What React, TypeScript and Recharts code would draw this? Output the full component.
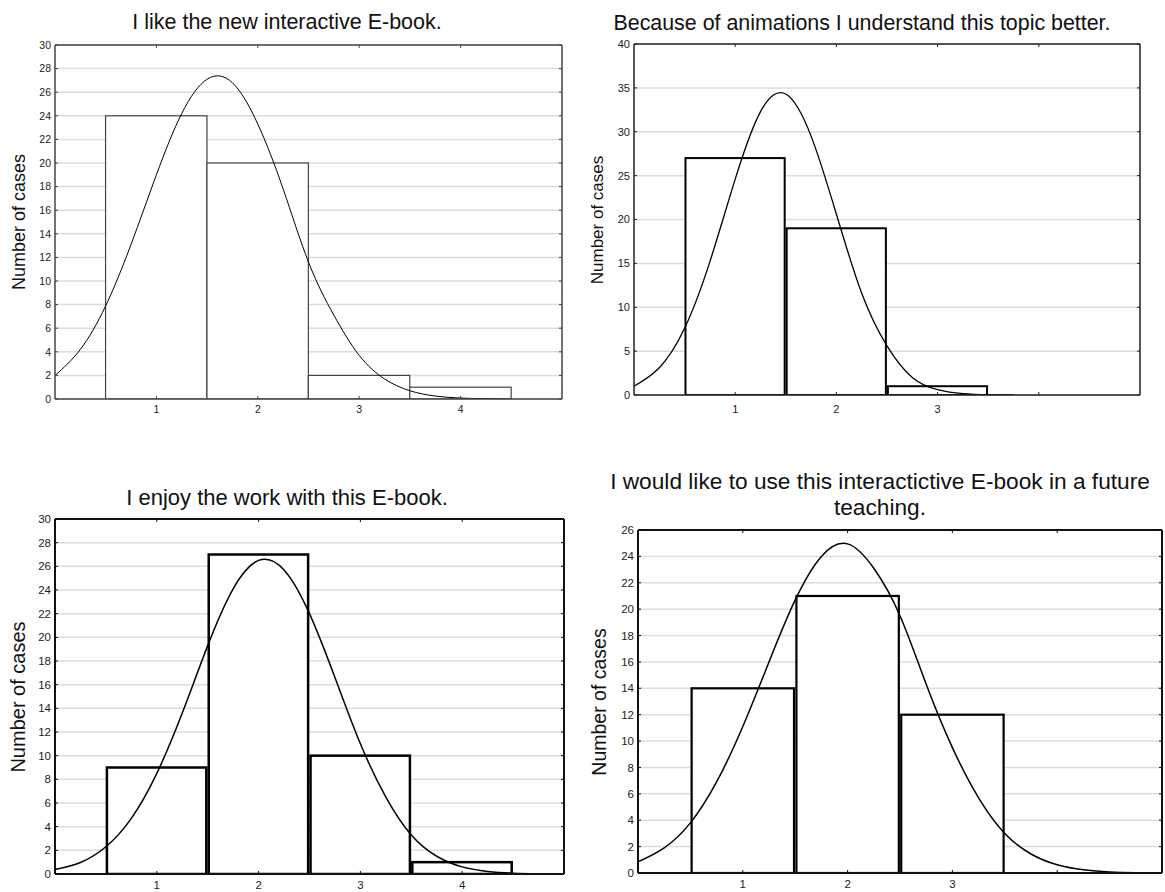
import React from 'react'
import { ComposedChart, Bar, Line, XAxis, YAxis, CartesianGrid } from 'recharts'

const curveX = [0, 0.25, 0.5, 0.75, 1, 1.25, 1.5, 1.75, 2, 2.25, 2.5, 2.75, 3, 3.25, 3.5, 3.75, 4, 4.25, 4.5, 4.75, 5]
const binCenters = [1, 2, 3, 4]
const xTicks = [1, 2, 3, 4]

const likeCounts = [24, 20, 2, 1]
const likeCurve = [2.0, 4.2, 7.9, 13.1, 19.0, 24.2, 27.1, 26.8, 23.3, 17.8, 11.6, 7.1, 3.7, 1.7, 0.7, 0.25, 0.08, 0.02, 0, null, null]
const likeTicks = [0, 2, 4, 6, 8, 10, 12, 14, 16, 18, 20, 22, 24, 26, 28, 30]

const animCounts = [27, 19, 1]
const animCurve = [1.0, 3.1, 7.6, 15.2, 24.6, 32.3, 34.3, 29.5, 20.6, 11.6, 5.6, 2.0, 0.6, 0.15, 0.03, 0, null, null, null, null, null]
const animTicks = [0, 5, 10, 15, 20, 25, 30, 35, 40]

const enjoyCounts = [9, 27, 10, 1]
const enjoyCurve = [0.37, 0.97, 2.3, 4.7, 8.5, 13.6, 19.3, 24.1, 26.5, 25.7, 22.0, 16.6, 11.0, 6.5, 3.3, 1.5, 0.6, 0.22, 0.07, 0.02, 0]
const enjoyTicks = [0, 2, 4, 6, 8, 10, 12, 14, 16, 18, 20, 22, 24, 26, 28, 30]

const futureCounts = [14, 21, 12]
const futureCurve = [0.84, 1.9, 3.8, 6.9, 11.1, 16.0, 20.7, 24.0, 24.95, 23.1, 19.5, 14.3, 9.5, 5.7, 3.0, 1.44, 0.62, 0.24, 0.08, 0.025, 0.007]
const futureTicks = [0, 2, 4, 6, 8, 10, 12, 14, 16, 18, 20, 22, 24, 26]

const FONT = '"Liberation Sans", Arial, sans-serif'
const YW = 40
const XH = 30
const TH = 10
const RW = 1

interface PanelProps {
  plot: { l: number; t: number; r: number; b: number }
  counts: number[]
  curve: (number | null)[]
  yTicks: number[]
  labelMax: number
  tickFont: number
  barStroke: number
  barColor: string
  barInset: number
  curveWidth: number
  border: number
  borderColor: string
  xLabelGap: number
}

function buildRows(counts: number[], curve: (number | null)[]) {
  return curveX.map((x, i) => {
    const bin = binCenters.indexOf(x)
    return { x, curve: curve[i], count: bin >= 0 && bin < counts.length ? counts[bin] : null }
  })
}

function Panel(p: PanelProps) {
  const plotW = p.plot.r - p.plot.l
  const plotH = p.plot.b - p.plot.t
  const unitPx = plotW / 5
  const yMax = p.yTicks[p.yTicks.length - 1]
  const rows = buildRows(p.counts, p.curve)

  const renderBar = (props: any) => {
    if (props.payload?.count == null) return <g />
    const cx = props.x + props.width / 2
    const left = cx - unitPx / 2 + p.barInset
    return (
      <rect
        x={left}
        y={props.y}
        width={unitPx - 2 * p.barInset}
        height={props.height}
        fill="#fff"
        stroke={p.barColor}
        strokeWidth={p.barStroke}
      />
    )
  }

  const axisLine = { stroke: p.borderColor, strokeWidth: p.border }
  const tick = { fill: '#222', fontSize: p.tickFont, fontFamily: FONT }

  return (
    <div style={{ position: 'absolute', left: p.plot.l - YW, top: p.plot.t - TH }}>
      <ComposedChart
        width={plotW + YW + RW}
        height={plotH + TH + XH}
        data={rows}
        margin={{ top: 0, right: 0, bottom: 0, left: 0 }}
      >
        <CartesianGrid vertical={false} stroke="#dcdcdc" strokeWidth={1.5} />
        <XAxis
          dataKey="x"
          type="number"
          domain={[0, 5]}
          ticks={xTicks}
          interval={0}
          height={XH}
          tickSize={-3}
          tickMargin={p.xLabelGap}
          axisLine={axisLine}
          tickLine={{ stroke: p.borderColor }}
          tick={tick}
          tickFormatter={(v: number) => (v <= p.labelMax ? String(v) : '')}
          allowDataOverflow
        />
        <XAxis
          xAxisId="top"
          orientation="top"
          dataKey="x"
          type="number"
          domain={[0, 5]}
          ticks={xTicks}
          interval={0}
          height={TH}
          tickSize={-3}
          axisLine={axisLine}
          tickLine={{ stroke: p.borderColor }}
          tickFormatter={() => ''}
          allowDataOverflow
        />
        <YAxis
          type="number"
          domain={[0, yMax]}
          ticks={p.yTicks}
          interval={0}
          width={YW}
          tickSize={-3}
          tickMargin={7}
          axisLine={axisLine}
          tickLine={{ stroke: p.borderColor }}
          tick={tick}
          allowDataOverflow
        />
        <YAxis
          yAxisId="right"
          orientation="right"
          type="number"
          domain={[0, yMax]}
          ticks={p.yTicks}
          interval={0}
          width={RW}
          tickSize={-3}
          axisLine={axisLine}
          tickLine={{ stroke: p.borderColor }}
          tickFormatter={() => ''}
          allowDataOverflow
        />
        <Bar dataKey="count" shape={renderBar} isAnimationActive={false} />
        <Line
          dataKey="curve"
          type="natural"
          stroke="#000"
          strokeWidth={p.curveWidth}
          dot={false}
          activeDot={false}
          isAnimationActive={false}
        />
      </ComposedChart>
    </div>
  )
}

export default function App() {
  return (
    <div style={{ position: 'absolute', left: 0, top: 0, width: 1165, height: 892, background: '#fff', overflow: 'hidden' }}>
      <Panel
        plot={{ l: 55, t: 45, r: 562, b: 399 }}
        counts={likeCounts}
        curve={likeCurve}
        yTicks={likeTicks}
        labelMax={4}
        tickFont={10.5}
        barStroke={1.2}
        barColor="#444"
        barInset={0}
        curveWidth={1}
        border={1.5}
        borderColor="#444"
        xLabelGap={10}
      />
      <Panel
        plot={{ l: 634, t: 44, r: 1140, b: 395 }}
        counts={animCounts}
        curve={animCurve}
        yTicks={animTicks}
        labelMax={3}
        tickFont={11}
        barStroke={2}
        barColor="#000"
        barInset={1}
        curveWidth={1.3}
        border={1.5}
        borderColor="#222"
        xLabelGap={13}
      />
      <Panel
        plot={{ l: 55, t: 519, r: 564, b: 874 }}
        counts={enjoyCounts}
        curve={enjoyCurve}
        yTicks={enjoyTicks}
        labelMax={4}
        tickFont={11.5}
        barStroke={2.5}
        barColor="#000"
        barInset={1.2}
        curveWidth={1.5}
        border={2}
        borderColor="#111"
        xLabelGap={10}
      />
      <Panel
        plot={{ l: 638, t: 530, r: 1162, b: 873 }}
        counts={futureCounts}
        curve={futureCurve}
        yTicks={futureTicks}
        labelMax={3}
        tickFont={11.5}
        barStroke={2.2}
        barColor="#000"
        barInset={1.2}
        curveWidth={1.5}
        border={2}
        borderColor="#111"
        xLabelGap={10}
      />
      <svg width={1165} height={892} style={{ position: 'absolute', left: 0, top: 0, pointerEvents: 'none' }}>
        <g fontFamily={FONT} fill="#111" textAnchor="middle">
          <text x={287} y={29} fontSize={21.5}>I like the new interactive E-book.</text>
          <text x={862} y={30} fontSize={21.4}>Because of animations I understand this topic better.</text>
          <text x={287} y={505} fontSize={22}>I enjoy the work with this E-book.</text>
          <text x={880} y={489} fontSize={22.7}>I would like to use this interactictive E-book in a future</text>
          <text x={880} y={515} fontSize={22.7}>teaching.</text>
          <text transform="translate(25 222) rotate(-90)" fontSize={18}>Number of cases</text>
          <text transform="translate(603 220) rotate(-90)" fontSize={17}>Number of cases</text>
          <text transform="translate(25 697) rotate(-90)" fontSize={20}>Number of cases</text>
          <text transform="translate(606 702) rotate(-90)" fontSize={19.5}>Number of cases</text>
        </g>
      </svg>
    </div>
  )
}
